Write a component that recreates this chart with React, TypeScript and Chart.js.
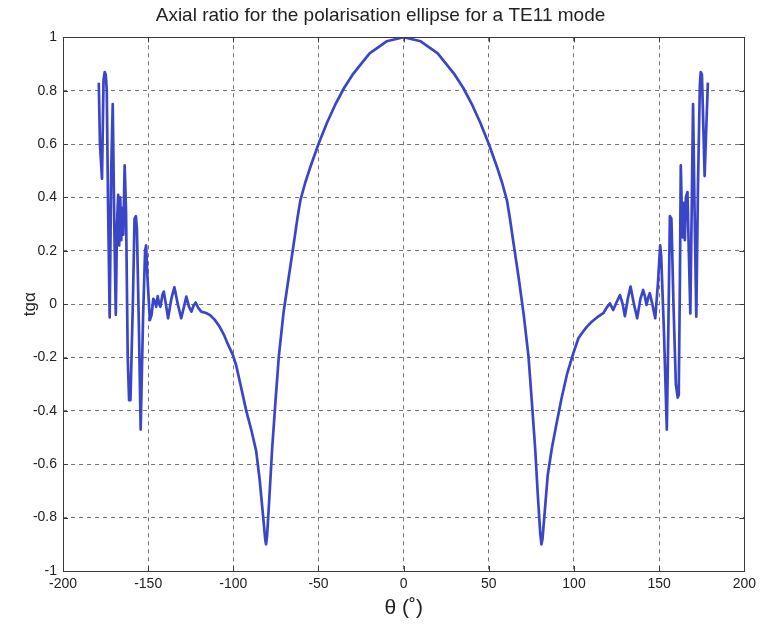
import React, { useEffect, useRef } from 'react';
import { Chart, registerables } from 'chart.js';

Chart.register(...registerables);

const thetaDeg: number[] = [
  -179.0, -178.3, -177.1, -176.2, -175.5, -174.9, -174.3, -173.6, -172.6, -171.7,
  -170.8, -169.9, -169.0, -168.3, -167.6, -167.0, -166.4, -165.8, -165.2, -164.6,
  -163.8, -163.0, -162.0, -161.2, -160.4, -159.0, -158.0, -157.2, -156.6, -155.4,
  -154.4, -153.0, -151.8, -151.2, -150.4, -149.0, -148.0, -147.0, -146.0, -145.3,
  -144.4, -143.5, -142.8, -141.6, -140.8, -139.6, -138.3, -136.4, -134.6, -132.6,
  -130.6, -129.0, -127.6, -126.0, -124.6, -123.3, -122.1, -120.5, -118.8, -116.0,
  -113.9, -111.0, -108.1, -105.5, -103.2, -100.3, -98.3, -95.5, -92.4, -89.5,
  -86.6, -84.5, -82.6, -81.3, -80.8, -80.2, -78.8, -77.2, -75.2, -73.3,
  -70.5, -67.5, -64.0, -62.3, -60.6, -57.8, -55, -50, -45, -40, -35, -30,
  -20, -10, 0,
  10, 20, 30, 35, 40, 45, 50, 55, 57.8, 60.6, 62.3, 64.0,
  67.5, 70.5, 73.3, 75.3, 77.2, 78.8, 80.2, 80.9, 81.5, 82.8,
  84.6, 87.0, 90.0, 92.8, 96.0, 99.6, 102.6, 104.5, 107.5, 110.4,
  113.5, 117.2, 119.5, 121.1, 123.0, 125.2, 127.0, 128.6, 129.9, 131.6,
  133.2, 135.2, 137.1, 139.0, 140.6, 141.6, 142.6, 143.6, 144.5, 146.0,
  147.7, 149.3, 150.6, 151.2, 152.8, 154.5, 155.5, 156.3, 157.2, 158.4,
  159.8, 160.9, 161.5, 162.2, 162.7, 163.3, 163.9, 164.5, 165.1, 165.7,
  166.6, 167.4, 168.3, 169.2, 169.9, 170.8, 171.8, 172.8, 173.9, 174.4,
  175.1, 175.8, 176.7, 177.6, 178.6,
];

const tgAlpha: number[] = [
  0.83, 0.60, 0.47, 0.84, 0.87, 0.86, 0.80, 0.40, -0.05, 0.50,
  0.75, 0.30, -0.04, 0.30, 0.41, 0.22, 0.40, 0.24, 0.36, 0.26,
  0.52, 0.35, -0.20, -0.36, -0.36, 0.00, 0.32, 0.33, 0.28, -0.10,
  -0.47, -0.05, 0.20, 0.22, 0.10, -0.06, -0.04, 0.02, 0.01, -0.01,
  0.03, 0.0, -0.01, 0.035, 0.047, 0.0, -0.053, 0.02, 0.063, 0.0,
  -0.053, -0.01, 0.028, -0.01, -0.028, -0.005, 0.006, -0.015, -0.028, -0.033,
  -0.04, -0.058, -0.084, -0.115, -0.15, -0.19, -0.23, -0.31, -0.40, -0.47,
  -0.55, -0.66, -0.79, -0.88, -0.90, -0.87, -0.72, -0.54, -0.36, -0.197,
  -0.03, 0.10, 0.25, 0.325, 0.39, 0.455, 0.51, 0.60, 0.68, 0.75, 0.81, 0.86,
  0.94, 0.985, 1.0,
  0.985, 0.94, 0.86, 0.81, 0.75, 0.68, 0.60, 0.51, 0.455, 0.39, 0.325, 0.25,
  0.10, -0.04, -0.197, -0.37, -0.54, -0.72, -0.86, -0.90, -0.88, -0.78,
  -0.64, -0.54, -0.44, -0.35, -0.26, -0.184, -0.128, -0.11, -0.085, -0.066,
  -0.05, -0.034, -0.01, 0.003, -0.022, 0.01, 0.034, 0.0, -0.045, 0.02,
  0.066, 0.0, -0.053, 0.02, 0.053, 0.03, -0.003, 0.025, 0.041, 0.0,
  -0.053, 0.08, 0.22, 0.18, -0.10, -0.47, -0.05, 0.33, 0.32, 0.0,
  -0.30, -0.35, -0.34, 0.10, 0.52, 0.35, 0.25, 0.38, 0.24, 0.40,
  0.42, 0.20, -0.035, 0.40, 0.75, 0.35, -0.047, 0.45, 0.82, 0.87,
  0.86, 0.70, 0.48, 0.65, 0.83,
];

const xTicks: number[] = [-200, -150, -100, -50, 0, 50, 100, 150, 200];
const yTicks: number[] = [-1, -0.8, -0.6, -0.4, -0.2, 0, 0.2, 0.4, 0.6, 0.8, 1];

const titleText = 'Axial ratio for the polarisation ellipse for a TE11 mode';
const xLabel = 'θ (˚)';
const yLabel = 'tgα';

const FONT = "'Liberation Sans', Arial, Helvetica, sans-serif";

const framePlugin = {
  id: 'matlabFrame',
  afterDraw(chart: any) {
    const { ctx, chartArea } = chart;
    const { left, right, top, bottom } = chartArea;
    const xs = chart.scales.x;
    const ys = chart.scales.y;
    ctx.save();
    ctx.strokeStyle = '#3a3a3a';
    ctx.lineWidth = 1;
    ctx.setLineDash([]);
    ctx.strokeRect(Math.round(left) + 0.5, Math.round(top) + 0.5, Math.round(right - left), Math.round(bottom - top));
    const tl = 5;
    ctx.beginPath();
    for (const v of xTicks) {
      const px = Math.round(xs.getPixelForValue(v)) + 0.5;
      ctx.moveTo(px, bottom);
      ctx.lineTo(px, bottom - tl);
      ctx.moveTo(px, top);
      ctx.lineTo(px, top + tl);
    }
    for (const v of yTicks) {
      const py = Math.round(ys.getPixelForValue(v)) + 0.5;
      ctx.moveTo(left, py);
      ctx.lineTo(left + tl, py);
      ctx.moveTo(right, py);
      ctx.lineTo(right - tl, py);
    }
    ctx.stroke();
    ctx.restore();
  },
};

export default function App() {
  const ref = useRef<HTMLCanvasElement | null>(null);

  useEffect(() => {
    document.body.style.margin = '0';
    const canvas = ref.current;
    if (!canvas) return;
    const points = thetaDeg.map((t, i) => ({ x: t, y: tgAlpha[i] }));
    const chart = new Chart(canvas, {
      type: 'line',
      data: {
        datasets: [
          {
            data: points,
            borderColor: '#3a46c8',
            borderWidth: 2.7,
            pointRadius: 0,
            tension: 0,
            fill: false,
            borderJoinStyle: 'round',
          },
        ],
      },
      options: {
        animation: false,
        responsive: false,
        devicePixelRatio: 1,
        layout: { padding: { left: 0, right: 0, top: 0, bottom: 0 } },
        plugins: {
          legend: { display: false },
          tooltip: { enabled: false },
          title: {
            display: true,
            text: titleText,
            color: '#222',
            font: { family: FONT, size: 19, weight: 'normal' },
            padding: { top: 4, bottom: 10.5 },
          },
        },
        scales: {
          x: {
            type: 'linear',
            min: -200,
            max: 200,
            afterBuildTicks: (s: any) => {
              s.ticks = xTicks.map((v) => ({ value: v }));
            },
            afterFit: (s: any) => {
              s.height = 59;
            },
            ticks: {
              color: '#222',
              font: { family: FONT, size: 14 },
              padding: 5,
              maxRotation: 0,
              autoSkip: false,
              callback: (v: any) => String(v),
            },
            grid: { color: 'rgba(70,70,70,0.75)', lineWidth: 1, drawTicks: false },
            border: { display: false, dash: [4, 4] },
            title: {
              display: true,
              text: xLabel,
              color: '#222',
              font: { family: FONT, size: 21 },
              padding: { top: 0, bottom: 9 },
            },
          },
          y: {
            type: 'linear',
            min: -1,
            max: 1,
            afterBuildTicks: (s: any) => {
              s.ticks = yTicks.map((v) => ({ value: v }));
            },
            afterFit: (s: any) => {
              s.width = 63;
            },
            ticks: {
              color: '#222',
              font: { family: FONT, size: 14 },
              padding: 6,
              autoSkip: false,
              callback: (v: any) => String(Math.round(v * 10) / 10),
            },
            grid: { color: 'rgba(70,70,70,0.75)', lineWidth: 1, drawTicks: false },
            border: { display: false, dash: [4, 4] },
            title: {
              display: true,
              text: yLabel,
              color: '#222',
              font: { family: FONT, size: 17 },
              padding: { top: 20, bottom: 0 },
            },
          },
          yRightSpacer: {
            type: 'linear',
            position: 'right',
            display: true,
            min: -1,
            max: 1,
            afterFit: (s: any) => {
              s.width = 14.5;
            },
            ticks: { display: false },
            grid: { display: false, drawTicks: false },
            border: { display: false },
          },
        },
      },
      plugins: [framePlugin],
    } as any);
    return () => chart.destroy();
  }, []);

  return (
    <div style={{ width: 761, height: 630 }}>
      <canvas ref={ref} width={761} height={630} style={{ display: 'block' }} />
    </div>
  );
}
